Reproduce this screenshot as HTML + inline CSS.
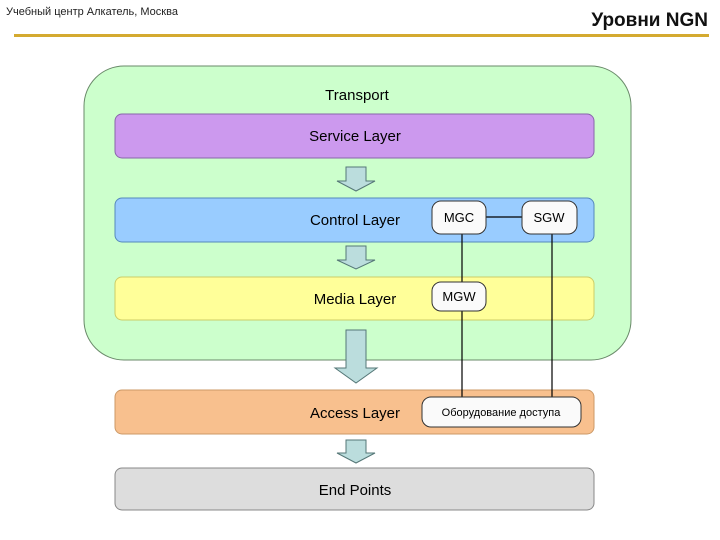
<!DOCTYPE html>
<html><head><meta charset="utf-8"><style>body{margin:0;background:#fff}svg{display:block}text{font-family:"Liberation Sans",sans-serif}</style></head><body>
<svg width="720" height="540" viewBox="0 0 720 540" xmlns="http://www.w3.org/2000/svg">
<text x="6" y="15" font-size="11" fill="#222">Учебный центр Алкатель, Москва</text>
<text x="708" y="26" font-size="19" font-weight="bold" text-anchor="end" fill="#111">Уровни NGN</text>
<rect x="14" y="34" width="695" height="3" fill="#d4aa30"/>
<rect x="84" y="66" width="547" height="294" rx="40" fill="#ccffcc" stroke="#6a8a6a"/>
<text x="357" y="100" font-size="15" text-anchor="middle">Transport</text>
<rect x="115" y="114" width="479" height="44" rx="7" fill="#cc99ee" stroke="#8866aa"/>
<text x="355" y="141" font-size="15" text-anchor="middle">Service Layer</text>
<rect x="115" y="198" width="479" height="44" rx="7" fill="#99ccff" stroke="#5588bb"/>
<text x="355" y="225" font-size="15" text-anchor="middle">Control Layer</text>
<rect x="115" y="277" width="479" height="43" rx="7" fill="#ffff99" stroke="#cccc66"/>
<text x="355" y="304" font-size="15" text-anchor="middle">Media Layer</text>
<rect x="115" y="390" width="479" height="44" rx="7" fill="#f8c08e" stroke="#cc9966"/>
<text x="355" y="418" font-size="15" text-anchor="middle">Access Layer</text>
<rect x="115" y="468" width="479" height="42" rx="7" fill="#dddddd" stroke="#888"/>
<text x="355" y="495" font-size="15" text-anchor="middle">End Points</text>
<g fill="#bbdddd" stroke="#557777">
<path d="M346 167h20v14h9l-19 10-19-10h9z"/>
<path d="M346 246h20v14h9l-19 9-19-9h9z"/>
<path d="M346 330h20v38h11l-21 15-21-15h11z"/>
<path d="M346 440h20v13h9l-19 10-19-10h9z"/>
</g>
<g stroke="#000" stroke-width="1.2">
<line x1="486" y1="217" x2="522" y2="217"/>
<line x1="462" y1="234" x2="462" y2="397"/>
<line x1="552" y1="234" x2="552" y2="397"/>
</g>
<g fill="#fafafa" stroke="#333">
<rect x="432" y="201" width="54" height="33" rx="9"/>
<rect x="522" y="201" width="55" height="33" rx="9"/>
<rect x="432" y="282" width="54" height="29" rx="9"/>
<rect x="422" y="397" width="159" height="30" rx="9"/>
</g>
<text x="459" y="222" font-size="13" text-anchor="middle">MGC</text>
<text x="549" y="222" font-size="13" text-anchor="middle">SGW</text>
<text x="459" y="301" font-size="13" text-anchor="middle">MGW</text>
<text x="501" y="416" font-size="11" text-anchor="middle">Оборудование доступа</text>
</svg>
</body></html>
